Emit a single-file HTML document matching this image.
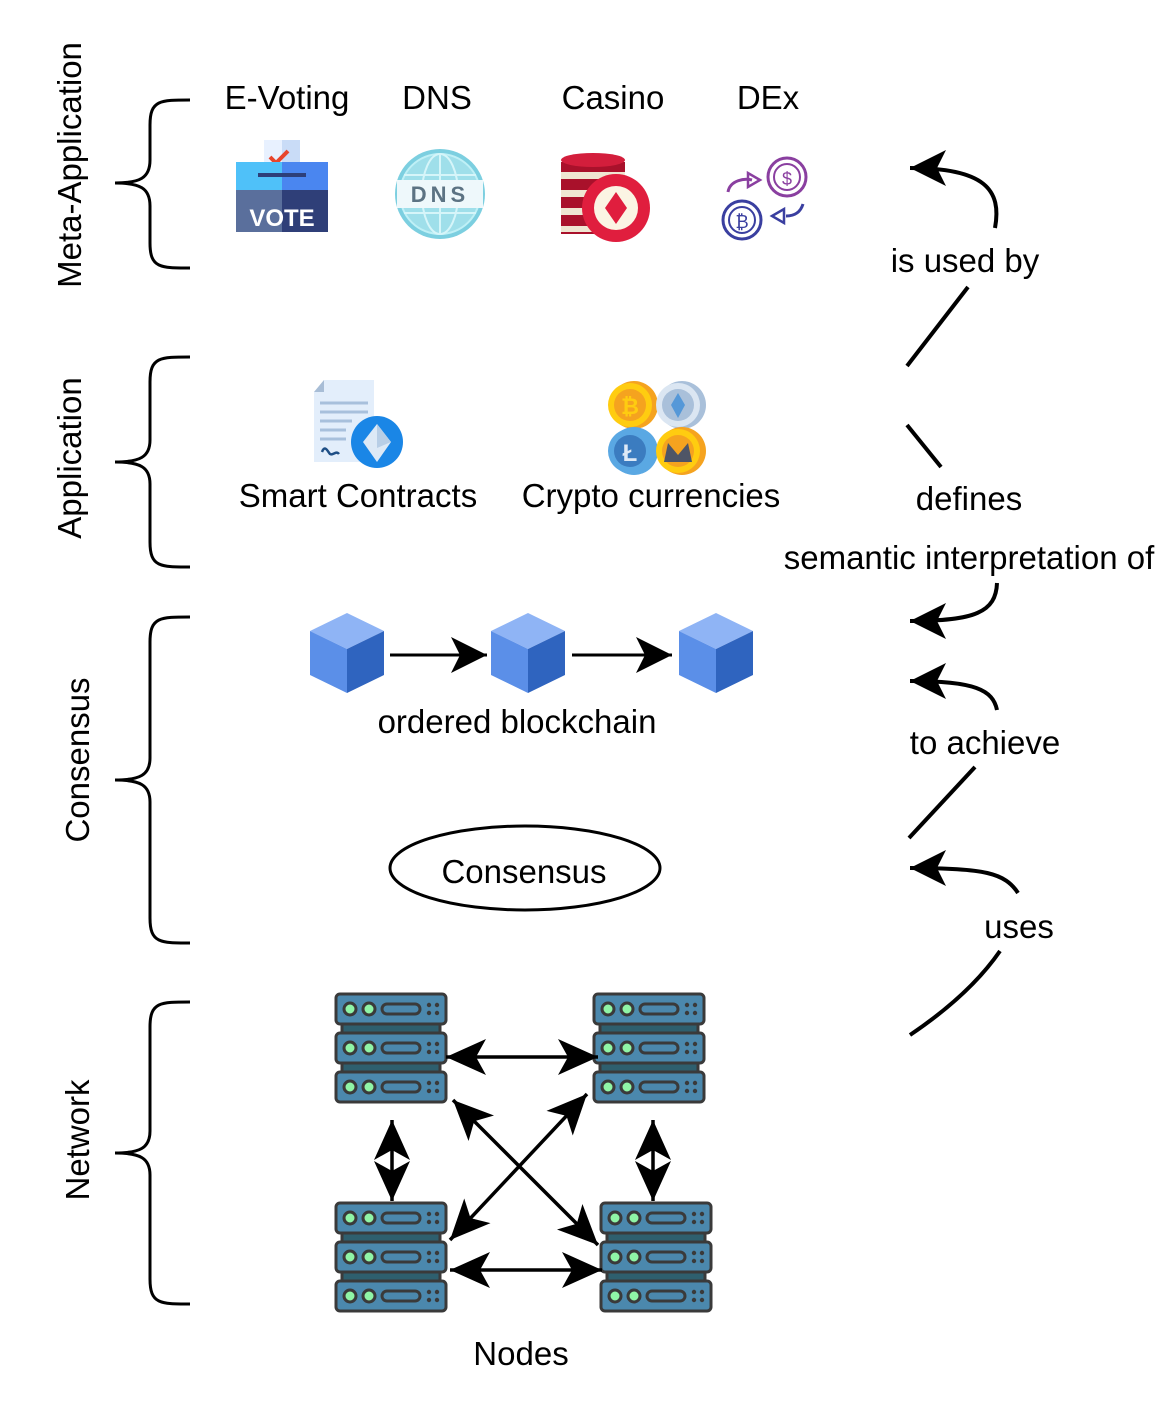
<!DOCTYPE html>
<html><head><meta charset="utf-8"><style>
html,body{margin:0;padding:0;background:#fff}
svg{display:block}
text{font-family:"Liberation Sans",Arial,sans-serif;fill:#000}
</style></head><body>
<svg width="1162" height="1424" viewBox="0 0 1162 1424" xmlns="http://www.w3.org/2000/svg">
<defs>
<marker id="ah" markerUnits="userSpaceOnUse" markerWidth="44" markerHeight="44" refX="40" refY="20" orient="auto-start-reverse" viewBox="0 0 44 40">
<path d="M40,20 L0,2 L10,20 L0,38 Z" fill="#000"/>
</marker>
<marker id="ah2" markerUnits="userSpaceOnUse" markerWidth="40" markerHeight="40" refX="36" refY="18" orient="auto-start-reverse" viewBox="0 0 40 36">
<path d="M36,18 L0,0 L9,18 L0,36 Z" fill="#000"/>
</marker>
<g id="srvU">
<rect x="0" y="0" width="110" height="30" rx="4" fill="#4b88ad" stroke="#3a3a3a" stroke-width="3"/>
<circle cx="14" cy="15" r="6" fill="#8ff5a6" stroke="#3a3a3a" stroke-width="3"/>
<circle cx="33" cy="15" r="6" fill="#8ff5a6" stroke="#3a3a3a" stroke-width="3"/>
<rect x="46" y="10" width="38" height="10" rx="5" fill="#4b88ad" stroke="#3a3a3a" stroke-width="3"/>
<circle cx="93" cy="11" r="2.2" fill="#3a3a3a"/><circle cx="101" cy="11" r="2.2" fill="#3a3a3a"/>
<circle cx="93" cy="19" r="2.2" fill="#3a3a3a"/><circle cx="101" cy="19" r="2.2" fill="#3a3a3a"/>
</g>
<g id="srv">
<rect x="6" y="28" width="98" height="14" fill="#2e5f6e" stroke="#3a3a3a" stroke-width="3"/>
<rect x="6" y="67" width="98" height="14" fill="#2e5f6e" stroke="#3a3a3a" stroke-width="3"/>
<use href="#srvU" x="0" y="0"/>
<use href="#srvU" x="0" y="39"/>
<use href="#srvU" x="0" y="78"/>
</g>
<g id="cube">
<polygon points="37,0 74,18 37,36 0,18" fill="#8fb4f5"/>
<polygon points="0,18 37,36 37,80 0,62" fill="#5b8fe8"/>
<polygon points="74,18 37,36 37,80 74,62" fill="#2f64bf"/>
</g>
</defs>

<g fill="none" stroke="#000" stroke-width="3">
<path d="M190,100 C160,100 150,100 150,125 L150,160 C150,178 140,183 115,183 C140,183 150,188 150,206 L150,243 C150,268 160,268 190,268"/>
<path d="M190,357 C160,357 150,357 150,382 L150,440 C150,457 140,462 115,462 C140,462 150,467 150,484 L150,542 C150,567 160,567 190,567"/>
<path d="M190,617 C160,617 150,617 150,642 L150,758 C150,775 140,780 115,780 C140,780 150,785 150,802 L150,918 C150,943 160,943 190,943"/>
<path d="M190,1002 C160,1002 150,1002 150,1027 L150,1131 C150,1148 140,1153 115,1153 C140,1153 150,1158 150,1175 L150,1279 C150,1304 160,1304 190,1304"/>
</g>

<text font-size="33" text-anchor="middle" transform="translate(81,165) rotate(-90)">Meta-Application</text>
<text font-size="33" text-anchor="middle" transform="translate(81,458) rotate(-90)">Application</text>
<text font-size="33" text-anchor="middle" transform="translate(89,760) rotate(-90)">Consensus</text>
<text font-size="33" text-anchor="middle" transform="translate(89,1140) rotate(-90)">Network</text>

<text font-size="33" x="287" y="109" text-anchor="middle">E-Voting</text>
<text font-size="33" x="437" y="109" text-anchor="middle">DNS</text>
<text font-size="33" x="613" y="109" text-anchor="middle">Casino</text>
<text font-size="33" x="768" y="109" text-anchor="middle">DEx</text>

<rect x="264" y="140" width="36" height="40" fill="#e8f1ff"/>
<rect x="282" y="140" width="18" height="40" fill="#c9dcf7"/>
<path d="M270,157 l6,6 l12,-12" fill="none" stroke="#e8452c" stroke-width="4"/>
<rect x="236" y="162" width="46" height="28" fill="#4fc1f9"/>
<rect x="282" y="162" width="46" height="28" fill="#4a86f0"/>
<rect x="258" y="173" width="48" height="4" fill="#2d3f7a"/>
<rect x="236" y="190" width="46" height="42" fill="#5a6f9c"/>
<rect x="282" y="190" width="46" height="42" fill="#2f3f78"/>
<text x="282" y="226" font-size="24" font-weight="bold" text-anchor="middle" style="fill:#fff">VOTE</text>

<circle cx="440" cy="194" r="45" fill="#7ccfe0"/>
<circle cx="440" cy="194" r="40" fill="#9fdfea" stroke="#bff0f6" stroke-width="2"/>
<ellipse cx="440" cy="194" rx="18" ry="40" fill="none" stroke="#d6f5f9" stroke-width="2"/>
<line x1="440" y1="154" x2="440" y2="234" stroke="#d6f5f9" stroke-width="2"/>
<line x1="404" y1="175" x2="476" y2="175" stroke="#d6f5f9" stroke-width="2"/>
<line x1="404" y1="213" x2="476" y2="213" stroke="#d6f5f9" stroke-width="2"/>
<rect x="397" y="180" width="86" height="28" fill="#eef8fb"/>
<text x="440" y="202" font-size="22" font-weight="bold" text-anchor="middle" style="fill:#5c7383;letter-spacing:4px">DNS</text>

<rect x="561" y="162" width="64" height="72" fill="#a9112b"/>
<g fill="#efe6d2">
<rect x="561" y="172" width="64" height="7"/><rect x="561" y="190" width="64" height="7"/><rect x="561" y="208" width="64" height="7"/><rect x="561" y="226" width="64" height="6"/>
</g>
<ellipse cx="593" cy="160" rx="32" ry="7" fill="#d31e3c"/>
<circle cx="616" cy="208" r="34" fill="#e01e3e"/>
<circle cx="616" cy="208" r="22" fill="#fbf4e3"/>
<polygon points="616,192 627,208 616,224 605,208" fill="#e01e3e"/>

<circle cx="787" cy="177" r="19" fill="none" stroke="#8a3fa0" stroke-width="3"/>
<circle cx="787" cy="177" r="13" fill="none" stroke="#8a3fa0" stroke-width="2"/>
<text x="787" y="185" font-size="18" text-anchor="middle" style="fill:#8a3fa0">$</text>
<circle cx="742" cy="220" r="19" fill="none" stroke="#3a3fa0" stroke-width="3"/>
<circle cx="742" cy="220" r="13" fill="none" stroke="#3a3fa0" stroke-width="2"/>
<text x="742" y="228" font-size="18" text-anchor="middle" style="fill:#3a3fa0">₿</text>
<path d="M728,192 C730,180 745,178 752,180" fill="none" stroke="#8a3fa0" stroke-width="3"/>
<polygon points="760,180 748,173 748,187" fill="none" stroke="#8a3fa0" stroke-width="2.5"/>
<path d="M803,204 C800,214 792,216 786,216" fill="none" stroke="#3a3fa0" stroke-width="3"/>
<polygon points="772,216 784,209 784,223" fill="none" stroke="#3a3fa0" stroke-width="2.5"/>

<path d="M324,380 L374,380 L374,462 L314,462 L314,392 Z" fill="#e3eefb"/>
<polygon points="314,392 324,380 324,392" fill="#a8bdd6"/>
<g stroke="#a8c0dc" stroke-width="3"><line x1="320" y1="403" x2="368" y2="403"/><line x1="320" y1="412" x2="368" y2="412"/><line x1="320" y1="421" x2="352" y2="421"/><line x1="320" y1="430" x2="346" y2="430"/><line x1="320" y1="439" x2="346" y2="439"/></g>
<path d="M322,452 c3,-8 6,0 8,2 c3,2 6,-4 9,0" fill="none" stroke="#1f4f86" stroke-width="2.5"/>
<circle cx="377" cy="442" r="26" fill="#1a86e6"/>
<polygon points="377,424 391,442 377,462 363,442" fill="#dde9f6"/>
<polygon points="377,424 391,442 377,448" fill="#b8cee6"/>

<circle cx="634" cy="405" r="24" fill="#f5a31f"/><circle cx="630" cy="405" r="22" fill="#ffcc10"/><circle cx="630" cy="405" r="16" fill="#f5a31f"/>
<text x="630" y="414" font-size="22" font-weight="bold" text-anchor="middle" style="fill:#ffcc10">₿</text>
<circle cx="682" cy="405" r="24" fill="#a9c0da"/><circle cx="678" cy="405" r="22" fill="#dbe6f2"/><circle cx="678" cy="405" r="16" fill="#a9c0da"/>
<polygon points="678,393 685,405 678,418 671,405" fill="#5598d8"/>
<circle cx="634" cy="451" r="24" fill="#5aa8e3"/><circle cx="630" cy="451" r="22" fill="#5aa8e3"/><circle cx="630" cy="451" r="16" fill="#3b7cc0"/>
<text x="630" y="461" font-size="24" font-weight="bold" text-anchor="middle" style="fill:#dde9f6">Ł</text>
<circle cx="682" cy="451" r="24" fill="#f5a31f"/><circle cx="678" cy="451" r="22" fill="#ffcc10"/><circle cx="678" cy="451" r="16" fill="#f5a31f"/>
<path d="M664,462 L668,443 L678,455 L688,443 L692,462 Z" fill="#4f5566"/>

<text font-size="33" x="358" y="507" text-anchor="middle">Smart Contracts</text>
<text font-size="33" x="651" y="507" text-anchor="middle">Crypto currencies</text>

<use href="#cube" x="310" y="613"/>
<use href="#cube" x="491" y="613"/>
<use href="#cube" x="679" y="613"/>
<line x1="390" y1="655" x2="487" y2="655" stroke="#000" stroke-width="3" marker-end="url(#ah2)"/>
<line x1="572" y1="655" x2="672" y2="655" stroke="#000" stroke-width="3" marker-end="url(#ah2)"/>
<text font-size="33" x="517" y="733" text-anchor="middle">ordered blockchain</text>

<ellipse cx="525" cy="868" rx="135" ry="42" fill="none" stroke="#000" stroke-width="3"/>
<text font-size="33" x="524" y="883" text-anchor="middle">Consensus</text>

<use href="#srv" x="336" y="994"/>
<use href="#srv" x="594" y="994"/>
<use href="#srv" x="336" y="1203"/>
<use href="#srv" x="601" y="1203"/>
<g stroke="#000" stroke-width="3.5">
<line x1="446" y1="1057" x2="598" y2="1057" marker-start="url(#ah)" marker-end="url(#ah)"/>
<line x1="450" y1="1270" x2="602" y2="1270" marker-start="url(#ah)" marker-end="url(#ah)"/>
<line x1="392" y1="1120" x2="392" y2="1201" marker-start="url(#ah)" marker-end="url(#ah)"/>
<line x1="653" y1="1120" x2="653" y2="1201" marker-start="url(#ah)" marker-end="url(#ah)"/>
<line x1="453" y1="1100" x2="598" y2="1245" marker-start="url(#ah)" marker-end="url(#ah)"/>
<line x1="450" y1="1240" x2="587" y2="1094" marker-start="url(#ah)" marker-end="url(#ah)"/>
</g>
<text font-size="33" x="521" y="1365" text-anchor="middle">Nodes</text>

<g fill="none" stroke="#000" stroke-width="4">
<path d="M995,228 C1002,190 985,168 910,168" marker-end="url(#ah2)"/>
<line x1="968" y1="287" x2="907" y2="366"/>
<line x1="907" y1="425" x2="941" y2="467"/>
<path d="M997,583 C996,612 975,621 910,621" marker-end="url(#ah2)"/>
<path d="M997,710 C993,690 975,681 910,681" marker-end="url(#ah2)"/>
<line x1="975" y1="767" x2="909" y2="838"/>
<path d="M1018,893 C1005,873 985,868 910,868" marker-end="url(#ah2)"/>
<path d="M1000,951 C980,980 950,1008 910,1035"/>
</g>
<text font-size="33" x="965" y="272" text-anchor="middle">is used by</text>
<text font-size="33" x="969" y="510" text-anchor="middle">defines</text>
<text font-size="33" x="969" y="569" text-anchor="middle">semantic interpretation of</text>
<text font-size="33" x="985" y="754" text-anchor="middle">to achieve</text>
<text font-size="33" x="1019" y="938" text-anchor="middle">uses</text>
</svg>
</body></html>
